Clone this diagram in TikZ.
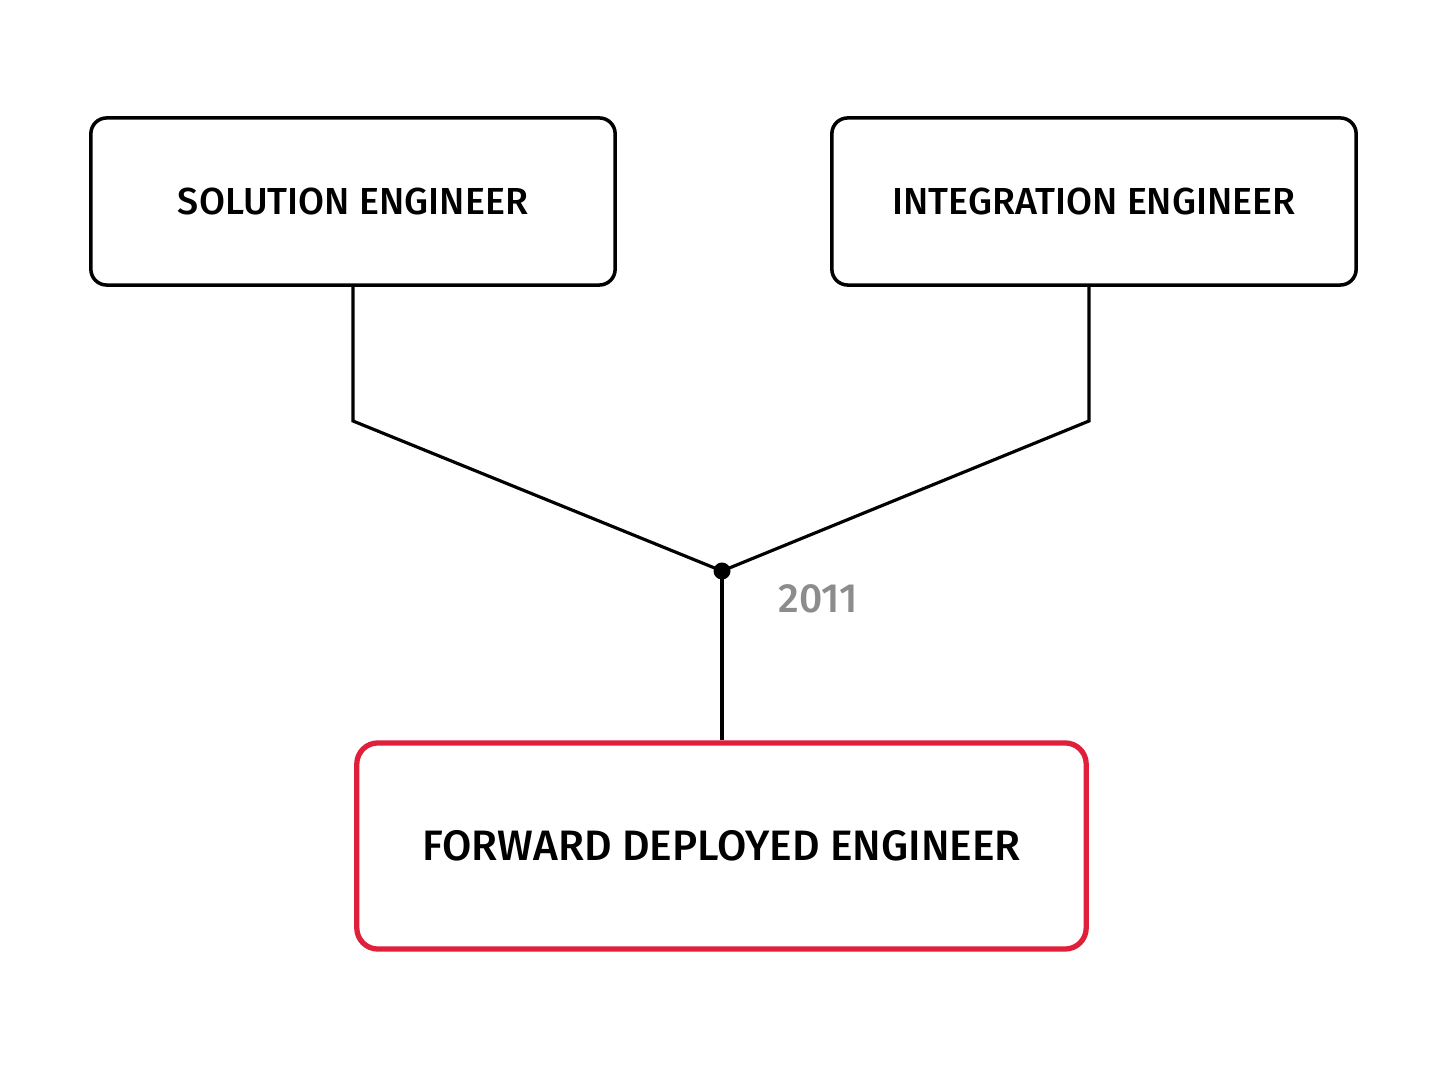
\documentclass[tikz,border=0pt]{standalone}
\usepackage{fontspec}
\setmainfont{Fira Sans}[BoldFont={Fira Sans Medium}]
\definecolor{fdered}{HTML}{E0203A}
\definecolor{yeargray}{HTML}{8C8C8C}

\begin{document}
\begin{tikzpicture}[x=0.01cm,y=-0.01cm,
    role/.style={draw,line width=1pt,rounded corners=4.5pt,minimum width=5.24cm,minimum height=1.67cm,font=\fontsize{10.7}{13}\selectfont\bfseries},
    fde/.style={draw=fdered,line width=1.5pt,rounded corners=6pt,minimum width=7.29cm,minimum height=2.06cm,font=\fontsize{12.1}{15}\selectfont\bfseries},
    wire/.style={line width=0.9pt}]
    \useasboundingbox[fill=white](0,0)rectangle(1448,1086);

    \node[role](sol)at(353,201.5){SOLUTION ENGINEER};
    \node[role](int)at(1094,201.5){INTEGRATION ENGINEER};
    \node[fde](fwd)at(721.5,846){FORWARD DEPLOYED ENGINEER};

    \coordinate(solbend)at(353,421);
    \coordinate(intbend)at(1089,421);
    \coordinate(merge)at(722,571);

    \draw[wire](sol.south)--(solbend)--(merge);
    \draw[wire](int.south-|intbend)--(intbend)--(merge);
    \draw[wire](merge)--(fwd.north-|merge);
    \fill(merge)circle(8.5);
    \node[text=yeargray,font=\fontsize{11.6}{14}\selectfont\bfseries](year)at(818,599){2011};
\end{tikzpicture}
\end{document}
